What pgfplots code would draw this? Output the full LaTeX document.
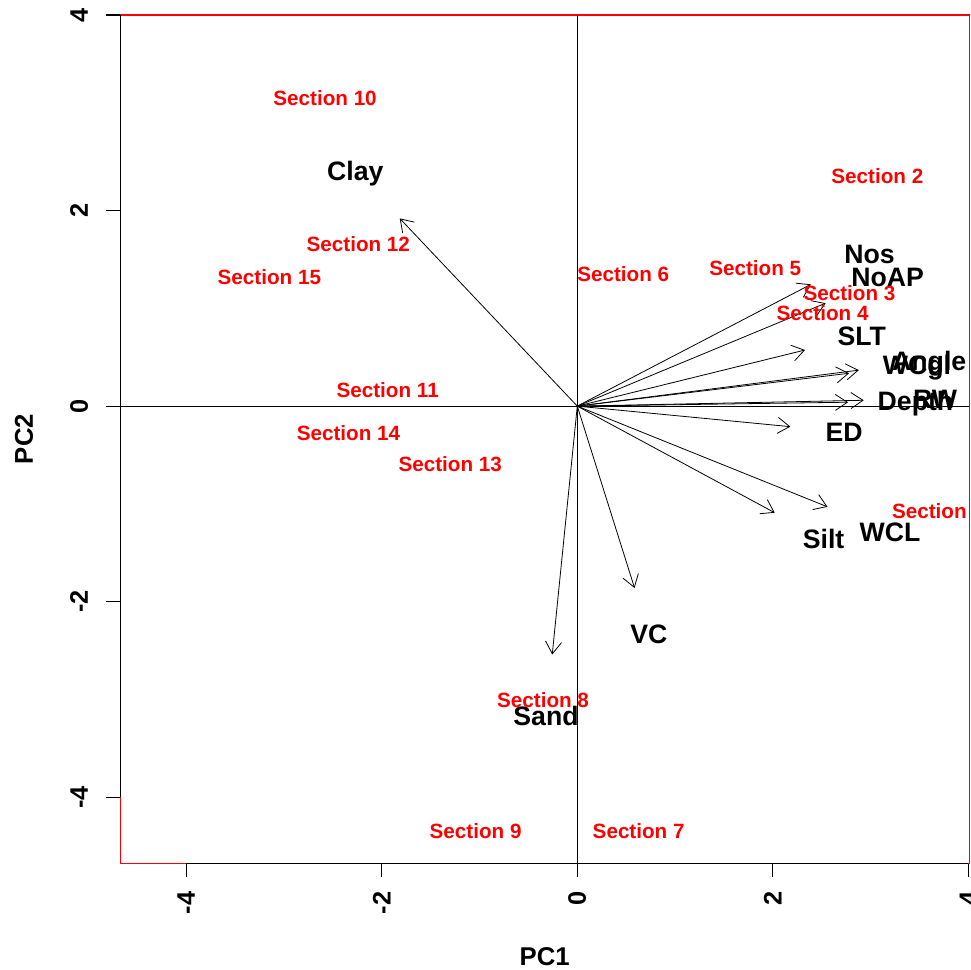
\documentclass[border=0pt]{standalone}
\usepackage{fontspec}
\setmainfont{Liberation Sans}
\usepackage{pgfplots}
\pgfplotsset{compat=1.18}
\usetikzlibrary{arrows.meta}
\begin{document}
\begin{tikzpicture}
\begin{axis}[
  name=ax,
  at={(0,0)}, anchor=south west,
  width=636.75pt, height=636.2pt, scale only axis,
  xmin=-4.675, xmax=4.01, ymin=-4.675, ymax=4.0,
  clip=false,
  axis line style={red, line width=0.8pt},
  tick pos=left, tick align=outside,
  major tick length=10.5pt,
  tick style={black, line width=0.8pt},
  xtick={-4,-2,0,2,4}, xticklabels={-4,-2,0,2,4},
  ytick={-4,-2,0,2,4}, yticklabels={-4,-2,0,2,4},
  xticklabel shift=10.5pt,
  yticklabel shift=13.5pt,
  xticklabel style={rotate=90, anchor=east, inner sep=0pt, font=\fontsize{19}{19}\selectfont\bfseries},
  yticklabel style={rotate=90, anchor=south, inner sep=0pt, font=\fontsize{19}{19}\selectfont\bfseries},
  xlabel={PC1}, ylabel={PC2},
  xlabel style={at={(axis description cs:0.5,-0.121)}, anchor=base, inner sep=0pt, font=\fontsize{19.3}{19.3}\selectfont\bfseries},
  ylabel style={at={(axis description cs:-0.1029,0.5)}, rotate=0, anchor=base, inner sep=0pt, font=\fontsize{19.3}{19.3}\selectfont\bfseries},
]
% zero lines and black axis segments
\addplot[black, line width=0.75pt] coordinates {(-4.675,0) (4.01,0)};
\addplot[black, line width=0.75pt] coordinates {(0,-4.675) (0,4.0)};
\addplot[black, line width=0.8pt] coordinates {(-4.675,-4) (-4.675,4)};
\addplot[black, line width=0.8pt] coordinates {(-4,-4.675) (4,-4.675)};

% section labels (scores)
\addplot[only marks, mark=none, point meta=explicit symbolic, nodes near coords,
  every node near coord/.append style={anchor=center, inner sep=0pt, text height=11.1pt, text depth=0pt, text=red, font=\fontsize{15.5}{15.5}\selectfont\bfseries}]
coordinates {
(-2.58,3.15) [Section 10]
(3.07,2.35) [Section 2]
(-2.24,1.66) [Section 12]
(-3.15,1.32) [Section 15]
(0.47,1.35) [Section 6]
(1.82,1.41) [Section 5]
(2.785,1.157) [Section 3]
(2.51,0.95) [Section 4]
(-1.94,0.16) [Section 11]
(-2.34,-0.28) [Section 14]
(-1.30,-0.59) [Section 13]
(3.69,-1.07) [Section 1]
(-0.35,-3.01) [Section 8]
(-1.04,-4.35) [Section 9]
(0.628,-4.35) [Section 7]
};

% loading arrows
\pgfplotsset{arr/.style={black, line width=0.6pt, -{Straight Barb[length=9pt,width=12pt]}}}
\addplot[arr] coordinates {(0,0) (-1.816,1.92)};
\addplot[arr] coordinates {(0,0) (2.39,1.245)};
\addplot[arr] coordinates {(0,0) (2.54,1.053)};
\addplot[arr] coordinates {(0,0) (2.33,0.574)};
\addplot[arr] coordinates {(0,0) (2.88,0.368)};
\addplot[arr] coordinates {(0,0) (2.78,0.336)};
\addplot[arr] coordinates {(0,0) (2.77,0.04)};
\addplot[arr] coordinates {(0,0) (2.93,0.06)};
\addplot[arr] coordinates {(0,0) (2.18,-0.21)};
\addplot[arr] coordinates {(0,0) (2.02,-1.09)};
\addplot[arr] coordinates {(0,0) (2.56,-1.03)};
\addplot[arr] coordinates {(0,0) (0.586,-1.86)};
\addplot[arr] coordinates {(0,0) (-0.256,-2.54)};

% variable labels
\addplot[only marks, mark=none, point meta=explicit symbolic, nodes near coords,
  every node near coord/.append style={anchor=center, inner sep=0pt, text height=14.3pt, text depth=0pt, text=black, font=\fontsize{20}{20}\selectfont\bfseries}]
coordinates {
(-2.27,2.40) [Clay]
(2.99,1.556) [Nos]
(3.175,1.316) [NoAP]
(2.91,0.718) [SLT]
(3.60,0.46) [Angle]
(3.475,0.42) [WCgl]
(3.46,0.05) [Depth]
(3.66,0.075) [RW]
(2.73,-0.26) [ED]
(2.52,-1.36) [Silt]
(3.20,-1.29) [WCL]
(0.733,-2.33) [VC]
(-0.32,-3.17) [Sand]
};
\end{axis}
\pgfresetboundingbox
\useasboundingbox ([shift={(-90.2pt,-80pt)}]ax.south west) rectangle ([shift={(1.3pt,11.25pt)}]ax.north east);
\end{tikzpicture}
\end{document}
